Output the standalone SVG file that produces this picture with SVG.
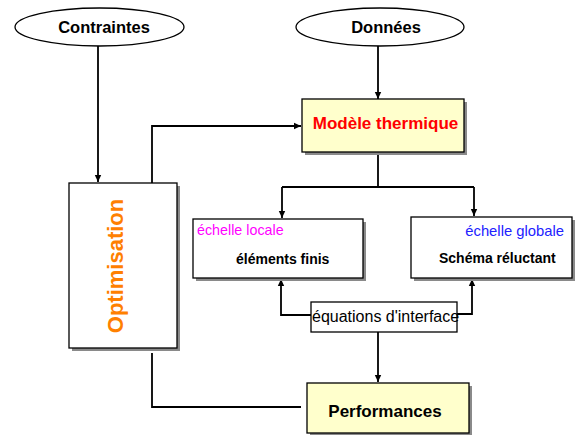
<svg xmlns="http://www.w3.org/2000/svg" width="577" height="435" viewBox="0 0 577 435">
<style>
.box{fill:#fff;stroke:#000;stroke-width:1.3}
.yel{fill:#FFFFCC;stroke:#000;stroke-width:1.3}
.sh{fill:#8a8a8a}
.ell{fill:#fff;stroke:#000;stroke-width:1.3}
.ln{fill:none;stroke:#000;stroke-width:1.8}
text{font-family:"Liberation Sans",Arial,sans-serif}
.b{font-weight:bold}
</style>
<defs>
<marker id="ah" markerWidth="8" markerHeight="8" refX="7" refY="4" orient="auto" markerUnits="userSpaceOnUse">
<path d="M0,0.8 L7,4 L0,7.2 Z" fill="#000"/>
</marker>
</defs>
<rect width="577" height="435" fill="#fff"/>
<g id="connectors">
<path class="ln" d="M98,46 V182" marker-end="url(#ah)"/>
<path class="ln" d="M378,46 V99" marker-end="url(#ah)"/>
<path class="ln" d="M152,183 V126 H301" marker-end="url(#ah)"/>
<path class="ln" d="M378,152 V186"/>
<path class="ln" d="M282,187 H474"/>
<path class="ln" d="M282,187 V218" marker-end="url(#ah)"/>
<path class="ln" d="M474,187 V216" marker-end="url(#ah)"/>
<path class="ln" d="M311,315 H281 V279" marker-end="url(#ah)"/>
<path class="ln" d="M452,314 H472 V279" marker-end="url(#ah)"/>
<path class="ln" d="M378,332 V382" marker-end="url(#ah)"/>
<path class="ln" d="M152,353 V407 H301"/>
</g>
<g id="contraintes">
<ellipse class="ell" cx="99.5" cy="27" rx="84.5" ry="19"/>
<text class="b" x="104" y="32.5" font-size="16.5" text-anchor="middle">Contraintes</text>
</g>
<g id="donnees">
<ellipse class="ell" cx="380" cy="27" rx="84" ry="19"/>
<text class="b" x="386" y="32.5" font-size="16.5" text-anchor="middle">Données</text>
</g>
<g id="optimisation">
<rect class="sh" x="72" y="186" width="108" height="165"/>
<rect class="box" x="69" y="183" width="108" height="165"/>
<text class="b" transform="translate(123,266) rotate(-90)" font-size="22" fill="#FF8000" text-anchor="middle">Optimisation</text>
</g>
<g id="modele">
<rect class="sh" x="305" y="102" width="162" height="53"/>
<rect class="yel" x="302" y="99" width="162" height="53"/>
<text class="b" x="385.5" y="129" font-size="17" fill="#FF0000" text-anchor="middle">Modèle thermique</text>
</g>
<g id="locale">
<rect class="sh" x="196" y="222" width="170" height="59"/>
<rect class="box" x="193" y="219" width="170" height="59"/>
<text x="197" y="235" font-size="14.3" fill="#FF00FF">échelle locale</text>
<text class="b" x="236" y="264" font-size="14">éléments finis</text>
</g>
<g id="globale">
<rect class="sh" x="414" y="220" width="161" height="61"/>
<rect class="box" x="411" y="217" width="161" height="61"/>
<text x="564" y="236" font-size="14.8" fill="#2222FF" text-anchor="end">échelle globale</text>
<text class="b" x="439" y="263" font-size="14">Schéma réluctant</text>
</g>
<g id="interface">
<rect class="box" x="311" y="302" width="146" height="30" stroke-width="1"/>
<text x="312" y="322" font-size="16">équations d'interface</text>
</g>
<g id="performances">
<rect class="sh" x="310" y="386" width="162" height="50"/>
<rect class="yel" x="307" y="383" width="162" height="50"/>
<text class="b" x="385" y="417" font-size="17" text-anchor="middle">Performances</text>
</g>
</svg>
